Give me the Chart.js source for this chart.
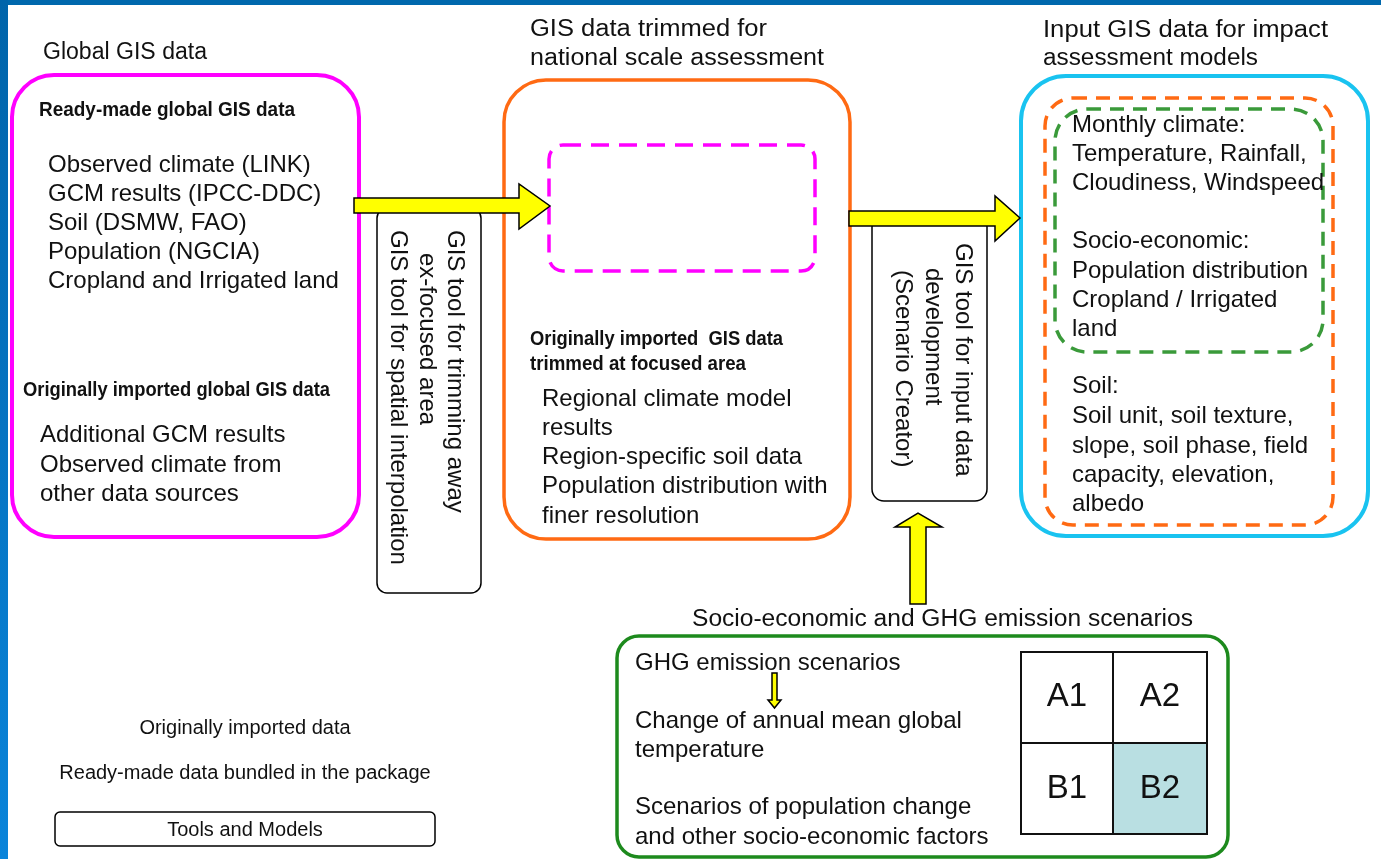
<!DOCTYPE html>
<html>
<head>
    <title>GIS data flow</title>
    <script src="https://cdn.jsdelivr.net/npm/chart.js"></script>
    <style>
        body { margin: 0; background: white; overflow: hidden; }
        #flow { display: block; }
    </style>
</head>
<body>
<canvas id="flow" width="1381" height="859"></canvas>
<script>
    // texts of the diagram
    const titles = ['Global GIS data', 'GIS data trimmed for', 'national scale assessment',
        'Input GIS data for impact', 'assessment models', 'Socio-economic and GHG emission scenarios'];
    const boldHeads = ['Ready-made global GIS data', 'Originally imported global GIS data',
        'Originally imported  GIS data', 'trimmed at focused area'];
    const readyMadeList = ['Observed climate (LINK)', 'GCM results (IPCC-DDC)', 'Soil (DSMW, FAO)',
        'Population (NGCIA)', 'Cropland and Irrigated land'];
    const importedList = ['Additional GCM results', 'Observed climate from', 'other data sources'];
    const trimmedList = ['Regional climate model', 'results', 'Region-specific soil data',
        'Population distribution with', 'finer resolution'];
    const inputList = ['Monthly climate:', 'Temperature, Rainfall,', 'Cloudiness, Windspeed',
        'Socio-economic:', 'Population distribution', 'Cropland / Irrigated', 'land',
        'Soil:', 'Soil unit, soil texture,', 'slope, soil phase, field', 'capacity, elevation,', 'albedo'];
    const toolTrim = ['GIS tool for trimming away', 'ex-focused area', 'GIS tool for spatial interpolation'];
    const toolInput = ['GIS tool for input data', 'development', '(Scenario Creator)'];
    const scenarioList = ['GHG emission scenarios', 'Change of annual mean global', 'temperature',
        'Scenarios of population change', 'and other socio-economic factors'];
    const scenarioCells = ['A1', 'A2', 'B1', 'B2'];
    const legendItems = ['Originally imported data', 'Ready-made data bundled in the package', 'Tools and Models'];

    // layout (page coordinates, mapped through the chart scales)
    const titlePos = [[43, 53, 164], [530, 30, 237], [530, 59, 294], [1043, 31, 285], [1043, 59, 215], [692, 620, 501]];
    const boldPos = [[39, 110, 256], [23, 390, 307], [530, 339, 253], [530, 364, 216]];
    const readyY = [165, 194, 223, 252, 281];
    const importedY = [435, 465, 494];
    const trimmedY = [399, 428, 457, 486, 516];
    const inputY = [125, 154, 183, 241, 271, 300, 329, 386, 416, 446, 475, 504];
    const scenarioY = [663, 721, 750, 807, 837];
    const toolTrimPos = [[455, 230], [427, 253], [398, 230]];
    const toolInputPos = [[963, 243], [933, 268], [903, 270]];
    const legendY = [728, 773, 830];

    const FONT = '"Liberation Sans", Arial, sans-serif';
    const INK = '#111111';

    const diagram = {
        id: 'diagram',
        afterDraw(chart) {
            const c = chart.ctx;
            const X = v => chart.scales.x.getPixelForValue(v);
            const Y = v => chart.scales.y.getPixelForValue(v);

            function box(x0, y0, x1, y1, r, color, lw, dash, fill) {
                c.save();
                c.beginPath();
                c.roundRect(X(x0), Y(y0), X(x1) - X(x0), Y(y1) - Y(y0), r);
                if (fill) { c.fillStyle = fill; c.fill(); }
                c.setLineDash(dash || []);
                c.lineWidth = lw;
                c.strokeStyle = color;
                c.stroke();
                c.restore();
            }
            function text(s, x, y, font, opts) {
                opts = opts || {};
                c.save();
                c.font = font;
                c.fillStyle = INK;
                c.textBaseline = 'middle';
                c.textAlign = opts.align || 'left';
                c.translate(X(x), Y(y));
                if (opts.rot) c.rotate(Math.PI / 2);
                if (opts.w) c.scale(opts.w / c.measureText(s).width, 1);
                c.fillText(s, 0, 0);
                c.restore();
            }
            function arrow(pts) {
                c.save();
                c.beginPath();
                pts.forEach((p, i) => i ? c.lineTo(X(p[0]), Y(p[1])) : c.moveTo(X(p[0]), Y(p[1])));
                c.closePath();
                c.fillStyle = '#ffff00';
                c.fill();
                c.lineWidth = 1.5;
                c.strokeStyle = '#000';
                c.stroke();
                c.restore();
            }

            // blue frame
            c.fillStyle = '#0068ad';
            c.fillRect(X(0), Y(0), X(1381) - X(0), Y(5) - Y(0));
            const g = c.createLinearGradient(0, Y(0), 0, Y(859));
            g.addColorStop(0, '#0064aa');
            g.addColorStop(1, '#0a84da');
            c.fillStyle = g;
            c.fillRect(X(0), Y(0), X(8) - X(0), Y(859) - Y(0));

            // main boxes
            box(12, 75, 359, 537, 42, '#ff00ff', 4);
            box(504, 80, 850, 539, 42, '#ff6a13', 3.5);
            box(1021, 76, 1368, 536, 45, '#19c3f0', 4);
            box(1045, 98, 1333, 525, 28, '#ff6a13', 3.5, [14, 9]);
            box(1055, 109, 1323, 352, 32, '#3a9a3a', 3.5, [14, 9]);
            box(549, 145, 815, 271, 14, '#ff00ff', 3.5, [18, 10]);
            box(617, 636, 1228, 857, 22, '#1d8a1d', 3.5);

            // tool boxes
            box(377, 208, 481, 593, 10, '#000', 1.5);
            box(872, 215, 987, 501, 12, '#000', 1.5);
            box(55, 812, 435, 846, 5, '#000', 1.5);

            // scenario grid
            c.fillStyle = '#b9dfe2';
            c.fillRect(X(1113), Y(743), X(1207) - X(1113), Y(834) - Y(743));
            c.save();
            c.lineWidth = 2;
            c.strokeStyle = '#111';
            c.strokeRect(X(1021), Y(652), X(1207) - X(1021), Y(834) - Y(652));
            c.beginPath();
            c.moveTo(X(1113), Y(652)); c.lineTo(X(1113), Y(834));
            c.moveTo(X(1021), Y(743)); c.lineTo(X(1207), Y(743));
            c.stroke();
            c.restore();
            const cellPos = [[1067, 697], [1160, 697], [1067, 789], [1160, 789]];
            scenarioCells.forEach((s, i) => text(s, cellPos[i][0], cellPos[i][1], '33px ' + FONT, { align: 'center' }));

            // arrows
            arrow([[354, 198], [519, 198], [519, 184], [550, 206], [519, 229], [519, 213], [354, 213]]);
            arrow([[849, 211], [995, 211], [995, 196], [1020, 218], [995, 241], [995, 226], [849, 226]]);
            arrow([[910, 604], [910, 527], [895, 527], [918, 513], [942, 527], [926, 527], [926, 604]]);
            arrow([[772, 673], [772, 700], [768, 700], [774.5, 708], [781, 700], [777, 700], [777, 673]]);

            // texts
            titles.forEach((s, i) => text(s, titlePos[i][0], titlePos[i][1], '23px ' + FONT, { w: titlePos[i][2] }));
            boldHeads.forEach((s, i) => text(s, boldPos[i][0], boldPos[i][1], 'bold 20px ' + FONT, { w: boldPos[i][2] }));
            readyMadeList.forEach((s, i) => text(s, 48, readyY[i], '24px ' + FONT));
            importedList.forEach((s, i) => text(s, 40, importedY[i], '24px ' + FONT));
            trimmedList.forEach((s, i) => text(s, 542, trimmedY[i], '24px ' + FONT));
            inputList.forEach((s, i) => text(s, 1072, inputY[i], '24px ' + FONT));
            scenarioList.forEach((s, i) => text(s, 635, scenarioY[i], '24px ' + FONT));
            toolTrim.forEach((s, i) => text(s, toolTrimPos[i][0], toolTrimPos[i][1], '24px ' + FONT, { rot: true }));
            toolInput.forEach((s, i) => text(s, toolInputPos[i][0], toolInputPos[i][1], '24px ' + FONT, { rot: true }));
            legendItems.forEach((s, i) => text(s, 245, legendY[i], '20px ' + FONT, { align: 'center' }));
        }
    };

    new Chart(document.getElementById('flow').getContext('2d'), {
        type: 'scatter',
        data: { datasets: [{ data: [] }] },
        options: {
            responsive: false,
            animation: false,
            devicePixelRatio: 1,
            layout: { padding: 0 },
            plugins: { legend: { display: false }, tooltip: { enabled: false } },
            scales: {
                x: { type: 'linear', min: 0, max: 1381, display: false },
                y: { type: 'linear', min: 0, max: 859, reverse: true, display: false }
            }
        },
        plugins: [diagram]
    });
</script>
</body>
</html>
